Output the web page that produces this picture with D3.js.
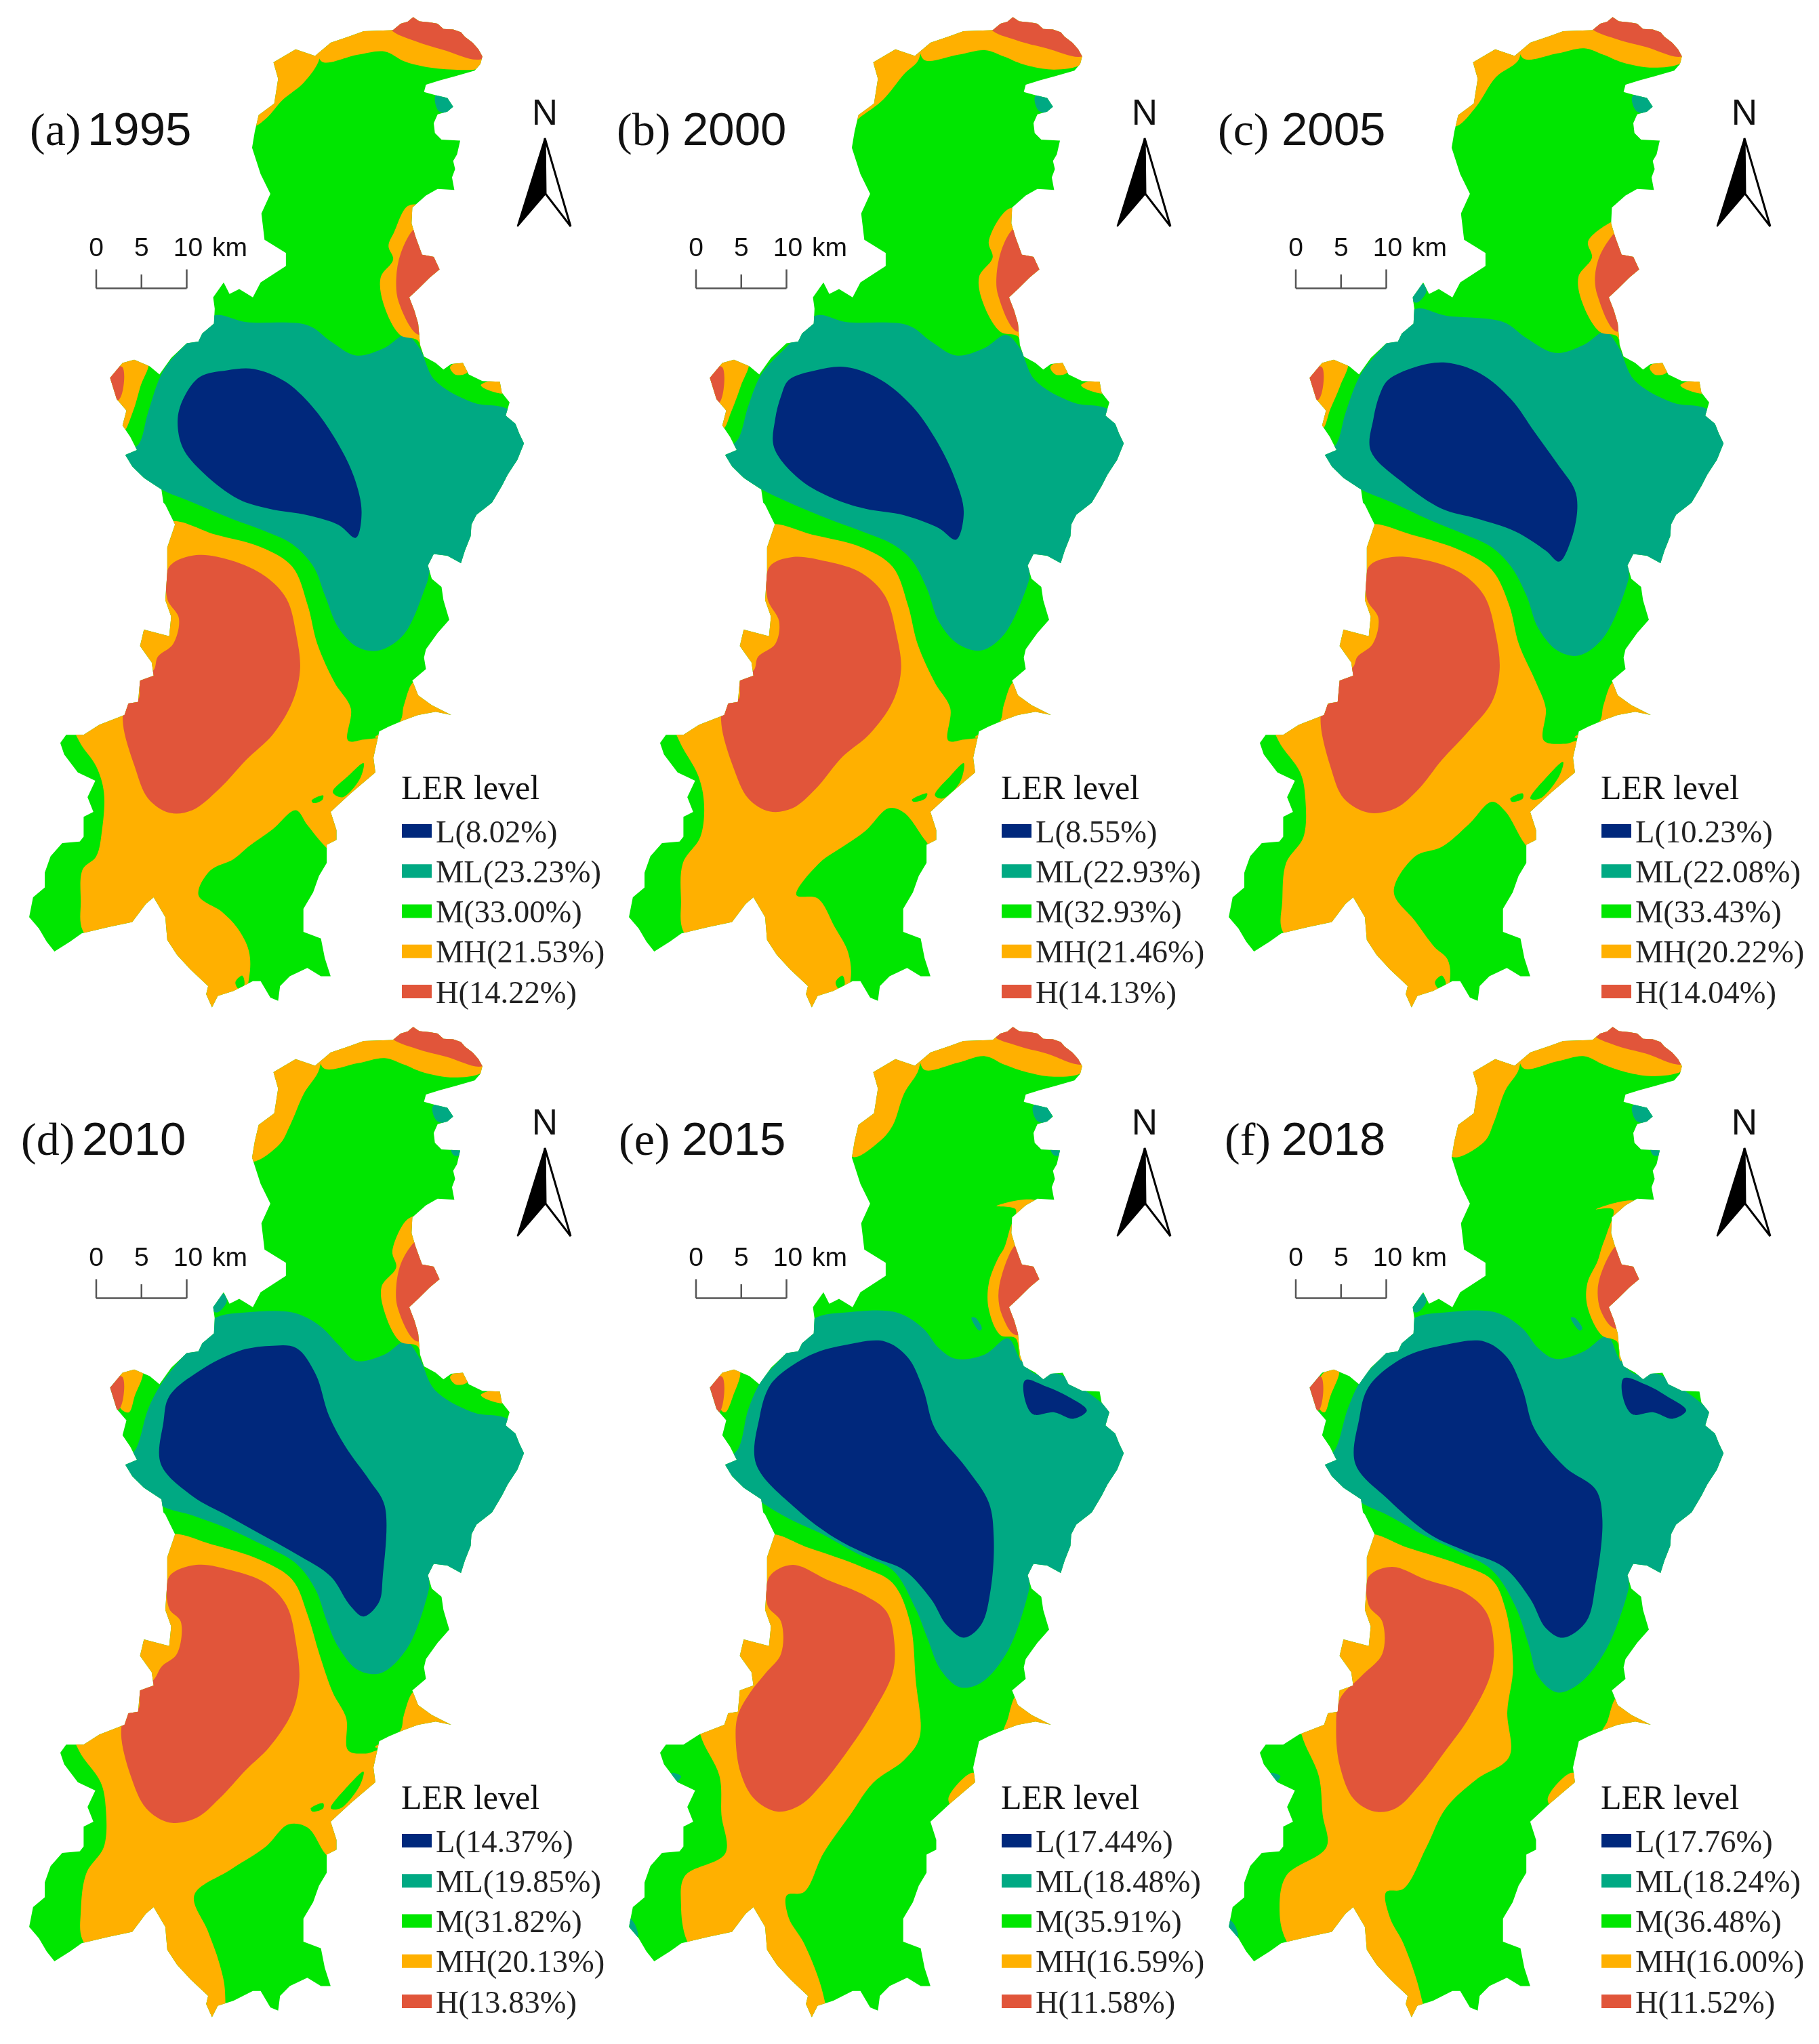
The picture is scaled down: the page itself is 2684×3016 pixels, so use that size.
<!DOCTYPE html>
<html><head><meta charset="utf-8">
<script src="https://cdn.jsdelivr.net/npm/d3@7"></script>
<style>html,body{margin:0;padding:0;background:#fff}svg{display:block;filter:blur(0.7px)}</style>
</head><body><div id="chart"></div>
<script>
// ---------- text and values ----------
const levels = ["L","ML","M","MH","H"];
const levelColors = ["#00287c","#00a983","#00e600","#ffb000","#e1553a"];
const letters = ["(a)","(b)","(c)","(d)","(e)","(f)"];
const years = ["1995","2000","2005","2010","2015","2018"];
const shares1995 = ["8.02","23.23","33.00","21.53","14.22"];
const shares2000 = ["8.55","22.93","32.93","21.46","14.13"];
const shares2005 = ["10.23","22.08","33.43","20.22","14.04"];
const shares2010 = ["14.37","19.85","31.82","20.13","13.83"];
const shares2015 = ["17.44","18.48","35.91","16.59","11.58"];
const shares2018 = ["17.76","18.24","36.48","16.00","11.52"];
const scaleTicks = [0,5,10];

// ---------- basin outline ----------
const outlineNorthEast = [[1010,92],[1030,72],[1048,66],[1062,52],[1078,65],[1105,68],[1125,72],[1140,88],[1165,90],[1185,98],[1195,112],[1215,130],[1230,150],[1240,172],[1235,195],[1220,215],[1170,232],[1130,245],[1095,258],[1090,280],[1120,290],[1150,298],[1165,325],[1150,340],[1125,348],[1115,375],[1118,405],[1135,425],[1183,428],[1175,470],[1165,490],[1170,515],[1162,540],[1168,578],[1125,575],[1095,595],[1060,632],[1058,680],[1068,720],[1085,775],[1115,782],[1130,820],[1105,845],[1075,880],[1052,905],[1065,945],[1075,985],[1080,1050],[1090,1085],[1120,1105],[1140,1125],[1160,1108],[1190,1105],[1205,1140],[1240,1160],[1285,1162],[1290,1195],[1310,1225],[1300,1265],[1325,1290],[1335,1320],[1347,1350],[1330,1400],[1305,1445],[1290,1480],[1265,1530]];
const outlineSouth = [[1258,10],[1225,40],[1212,70],[1210,105],[1195,150],[1185,188],[1150,165],[1115,160],[1100,195],[1110,235],[1135,260],[1140,300],[1155,360],[1125,400],[1095,450],[1090,475],[1095,510],[1060,545],[1075,590],[1110,620],[1160,650],[1120,640],[1075,650],[1040,665],[1000,685],[975,700],[960,780],[965,825],[930,860],[900,890],[850,945],[865,1000],[865,1030],[840,1045],[840,1100],[820,1140],[805,1190],[780,1240],[780,1310],[825,1330],[835,1390],[850,1445],[825,1445],[790,1420],[745,1445],[720,1475],[715,1520],[695,1510],[670,1460],[650,1460],[600,1490],[560,1505],[545,1540],[530,1500],[535,1475],[490,1425],[455,1380],[430,1335],[425,1265],[395,1205],[375,1225],[340,1280],[280,1295],[210,1315],[180,1340],[140,1370],[120,1340],[100,1300],[75,1265],[85,1205],[115,1175],[115,1130],[130,1080],[160,1040],[205,1035],[215,1020],[215,960],[240,945],[225,900],[245,850],[200,825],[165,770],[155,735],[170,710],[215,710],[255,680],[320,650],[330,615],[355,610],[360,545],[395,530],[390,490],[360,440],[370,390],[435,410],[440,350],[425,300],[430,215],[430,140],[450,70],[425,10]];
const outlineNorthWest = [[420,1530],[415,1490],[370,1455],[340,1420],[322,1385],[352,1370],[335,1330],[315,1295],[325,1250],[300,1215],[283,1150],[315,1105],[345,1095],[385,1115],[410,1140],[440,1090],[480,1045],[510,1040],[520,1015],[550,985],[552,940],[548,905],[575,860],[590,895],[615,880],[650,905],[670,860],[735,810],[735,770],[680,730],[672,650],[695,590],[670,530],[648,450],[655,400],[665,350],[705,315],[715,240],[703,190],[760,150],[810,170],[850,130],[900,110],[935,95]];

// ---------- level regions per year, painted in order over the M base ----------
const regions1995 = [
 ["ML",[[555,490],[640,500],[800,505],[860,530],[925,552],[1000,540],[1055,520],[1090,540],[1130,590],[1230,625],[1320,635],[1420,690],[1300,880],[1125,880],[1110,905],[1050,985],[985,1010],[930,1005],[880,975],[845,925],[815,880],[760,845],[690,825],[600,805],[500,780],[420,760],[360,735],[320,705],[360,690],[385,640],[425,575],[490,530]]],
 ["ML",[[1132,148],[1155,146],[1178,162],[1172,175],[1140,172]]],
 ["L",[[520,585],[590,575],[660,573],[740,592],[810,630],[870,680],[920,740],[940,795],[925,835],[880,815],[800,800],[700,790],[620,775],[530,735],[475,695],[462,650],[480,615]]],
 ["MH",[[440,810],[560,830],[680,850],[760,880],[800,940],[825,1000],[870,1060],[912,1100],[905,1150],[950,1148],[1000,1150],[1000,1250],[880,1330],[845,1314],[799,1281],[769,1258],[708,1288],[647,1314],[607,1334],[546,1352],[516,1390],[577,1416],[617,1441],[647,1477],[647,1520],[600,1600],[500,1600],[300,1500],[215,1445],[210,1400],[215,1350],[250,1330],[265,1290],[270,1230],[250,1190],[205,1150],[180,1100],[300,1050],[340,950],[390,850]]],
 ["MH",[[1077,1058],[1050,1095],[1040,1120],[975,1145],[1040,1140],[1200,1110],[1120,1060]]],
 ["MH",[[830,60],[830,92],[790,128],[735,155],[690,185],[660,195],[640,120],[700,60]]],
 ["MH",[[835,95],[930,85],[1000,80],[1050,95],[1100,103],[1180,108],[1250,105],[1280,80],[1100,0],[850,20]]],
 ["MH",[[1060,320],[1025,360],[1010,382],[1022,403],[990,430],[996,470],[1040,520],[1085,528],[1100,545],[1150,500],[1150,350],[1100,320]]],
 ["MH",[[300,550],[385,560],[365,600],[345,640],[320,670],[290,640],[280,590]]],
 ["MH",[[1170,570],[1205,560],[1215,578],[1185,582]]],
 ["MH",[[1250,598],[1305,590],[1310,610],[1270,606]]],
 ["M",[[865,1230],[905,1205],[945,1185],[935,1210],[890,1238]]],
 ["M",[[810,1243],[840,1235],[838,1242],[815,1247]]],
 ["M",[[612,1525],[630,1515],[635,1530],[620,1535]]],
 ["H",[[440,880],[510,862],[600,870],[690,895],[745,930],[770,985],[780,1040],[760,1090],[710,1140],[640,1180],[570,1225],[500,1258],[440,1262],[385,1240],[350,1190],[320,1125],[325,1095],[360,1085],[365,1055],[400,1040],[410,1020],[450,1000],[465,960],[435,930]]],
 ["H",[[1015,45],[1080,64],[1150,77],[1250,92],[1290,70],[1100,0],[1000,10]]],
 ["H",[[1078,355],[1042,393],[1030,433],[1037,470],[1090,520],[1160,480],[1170,390],[1110,350]]],
 ["H",[[280,575],[318,570],[310,620],[280,620]]]
];
const regions2000 = [
 ["ML",[[570,490],[650,500],[810,505],[870,530],[935,552],[1010,540],[1065,520],[1100,540],[1140,590],[1240,625],[1330,635],[1430,690],[1310,880],[1130,880],[1125,900],[1060,985],[1000,1010],[940,1000],[890,965],[860,915],[820,870],[770,845],[690,825],[600,805],[500,780],[430,760],[370,735],[335,705],[370,680],[395,630],[430,580],[500,535]]],
 ["ML",[[1140,150],[1165,144],[1190,160],[1180,175],[1150,172]]],
 ["L",[[500,590],[570,575],[650,570],[740,590],[820,630],[880,680],[930,740],[955,795],[935,838],[890,820],[800,800],[700,790],[620,775],[530,745],[462,695],[465,650],[480,615]]],
 ["MH",[[450,815],[560,830],[690,850],[770,880],[810,940],[835,1000],[880,1060],[920,1100],[915,1150],[960,1148],[1010,1150],[1010,1250],[890,1330],[855,1305],[800,1262],[760,1255],[700,1290],[640,1315],[580,1340],[520,1390],[575,1395],[620,1440],[655,1480],[660,1525],[610,1600],[500,1600],[300,1500],[225,1445],[220,1400],[225,1340],[270,1300],[280,1250],[265,1205],[215,1150],[190,1100],[310,1050],[350,950],[400,850]]],
 ["MH",[[1086,1058],[1059,1095],[1049,1120],[984,1145],[1049,1140],[1209,1110],[1129,1060]]],
 ["MH",[[838,60],[838,92],[800,115],[745,155],[690,180],[665,190],[650,120],[710,60]]],
 ["MH",[[850,92],[940,85],[1010,78],[1060,88],[1110,100],[1190,108],[1262,100],[1290,80],[1110,0],[860,20]]],
 ["MH",[[1070,325],[1020,375],[1030,400],[995,430],[1005,470],[1050,515],[1095,522],[1110,545],[1160,500],[1160,350],[1110,325]]],
 ["MH",[[310,550],[395,560],[375,600],[350,640],[330,665],[300,640],[290,590]]],
 ["MH",[[1180,570],[1215,560],[1225,578],[1195,582]]],
 ["MH",[[1260,598],[1315,590],[1320,610],[1280,606]]],
 ["M",[[880,1235],[920,1205],[955,1185],[945,1215],[900,1240]]],
 ["M",[[820,1242],[860,1232],[855,1240],[825,1245]]],
 ["M",[[622,1525],[640,1515],[645,1530],[630,1535]]],
 ["H",[[450,880],[510,865],[600,872],[690,890],[750,925],[780,985],[792,1040],[770,1090],[710,1140],[640,1175],[570,1225],[510,1255],[450,1260],[395,1240],[355,1190],[325,1125],[330,1095],[370,1085],[375,1055],[410,1040],[420,1020],[465,1000],[475,965],[445,930]]],
 ["H",[[1025,45],[1090,62],[1170,75],[1262,88],[1300,70],[1110,0],[1010,10]]],
 ["H",[[1085,355],[1055,385],[1040,430],[1045,460],[1095,515],[1170,480],[1180,390],[1120,350]]],
 ["H",[[290,575],[327,570],[320,625],[290,625]]]
];
const regions2005 = [
 ["ML",[[560,480],[640,490],[790,500],[850,525],[925,548],[1000,535],[1055,515],[1090,540],[1130,590],[1230,625],[1320,635],[1420,690],[1300,880],[1120,880],[1115,900],[1050,990],[985,1018],[930,1010],[880,975],[850,925],[810,880],[760,850],[690,830],[600,808],[500,780],[420,760],[360,735],[325,705],[355,690],[380,640],[420,580],[490,530]]],
 ["ML",[[1125,150],[1155,145],[1178,162],[1170,175],[1135,172]]],
 ["ML",[[550,465],[578,440],[590,452],[565,470]]],
 ["L",[[490,590],[560,570],[640,563],[730,580],[810,620],[870,670],[930,720],[975,760],[982,790],[965,840],[935,872],[900,855],[820,825],[720,805],[630,790],[530,750],[445,700],[452,650],[470,610]]],
 ["MH",[[440,815],[550,830],[680,855],[760,885],[805,940],[830,1000],[875,1060],[900,1100],[895,1150],[950,1155],[1000,1150],[1000,1250],[880,1330],[845,1310],[795,1260],[760,1245],[700,1280],[630,1315],[560,1330],[505,1385],[560,1430],[610,1470],[645,1490],[650,1525],[600,1600],[500,1600],[300,1500],[215,1445],[215,1400],[225,1340],[270,1300],[275,1240],[262,1200],[205,1150],[180,1100],[300,1050],[340,950],[390,850]]],
 ["MH",[[1077,1058],[1050,1095],[1040,1120],[975,1145],[1040,1140],[1200,1110],[1120,1060]]],
 ["MH",[[830,60],[830,92],[770,120],[720,165],[672,195],[655,195],[640,120],[700,60]]],
 ["MH",[[840,90],[930,83],[1000,75],[1050,85],[1100,97],[1180,105],[1252,98],[1280,80],[1100,0],[850,20]]],
 ["MH",[[1070,345],[1010,375],[1020,400],[985,430],[995,470],[1040,515],[1085,522],[1100,545],[1150,500],[1150,350],[1100,340]]],
 ["MH",[[300,550],[385,560],[365,600],[340,635],[320,665],[290,640],[280,590]]],
 ["MH",[[1170,570],[1205,560],[1215,578],[1185,582]]],
 ["MH",[[1250,598],[1305,590],[1310,610],[1270,606]]],
 ["M",[[860,1240],[905,1205],[945,1183],[935,1205],[885,1240]]],
 ["M",[[808,1240],[840,1232],[840,1240],[812,1245]]],
 ["M",[[612,1525],[630,1515],[640,1528],[622,1535]]],
 ["H",[[440,880],[500,865],[590,870],[680,890],[740,925],[770,985],[780,1040],[760,1090],[700,1135],[630,1180],[570,1225],[510,1255],[440,1262],[375,1240],[340,1190],[315,1125],[320,1100],[355,1085],[365,1050],[400,1035],[410,1020],[450,1000],[465,960],[435,930]]],
 ["H",[[1015,42],[1080,60],[1160,73],[1252,88],[1290,70],[1100,0],[1000,10]]],
 ["H",[[1085,358],[1042,395],[1028,430],[1035,460],[1085,515],[1160,480],[1170,390],[1110,350]]],
 ["H",[[280,575],[318,570],[310,620],[280,620]]]
];
const regions2010 = [
 ["ML",[[555,480],[640,470],[760,470],[830,490],[880,520],[925,545],[1000,535],[1055,515],[1090,540],[1130,590],[1230,625],[1320,635],[1420,690],[1300,880],[1120,880],[1115,900],[1060,990],[990,1030],[930,1025],[880,990],[850,950],[820,900],[770,860],[680,830],[590,805],[500,785],[420,770],[360,735],[325,705],[355,680],[385,620],[420,580],[480,535]]],
 ["ML",[[1125,150],[1155,145],[1178,162],[1170,175],[1135,172]]],
 ["ML",[[1172,215],[1195,212],[1195,226],[1180,226]]],
 ["ML",[[550,465],[578,440],[590,452],[565,470]]],
 ["L",[[440,600],[520,560],[620,530],[700,522],[770,525],[820,565],[855,630],[900,680],[960,730],[1000,770],[995,880],[985,920],[945,942],[910,925],[860,880],[770,845],[680,815],[590,785],[500,755],[418,705],[425,640]]],
 ["MH",[[440,815],[550,830],[680,855],[760,885],[800,940],[830,1000],[865,1060],[900,1100],[905,1150],[950,1155],[1000,1150],[1000,1250],[880,1330],[845,1310],[800,1270],[750,1265],[690,1300],[600,1335],[505,1375],[540,1430],[570,1480],[585,1525],[570,1600],[500,1600],[300,1500],[215,1445],[210,1400],[225,1340],[270,1300],[275,1240],[262,1200],[205,1150],[180,1100],[300,1050],[340,950],[390,850]]],
 ["MH",[[1077,1058],[1050,1095],[1040,1120],[975,1145],[1040,1140],[1200,1110],[1120,1060]]],
 ["MH",[[830,60],[830,92],[790,130],[755,178],[725,210],[650,235],[630,120],[700,60]]],
 ["MH",[[840,90],[930,83],[1000,75],[1050,85],[1100,97],[1180,105],[1252,98],[1280,80],[1100,0],[850,20]]],
 ["MH",[[1060,325],[1020,375],[1030,400],[992,430],[1000,470],[1040,515],[1085,522],[1100,545],[1150,500],[1150,350],[1100,320]]],
 ["MH",[[310,550],[370,560],[350,600],[335,625],[315,620],[300,590]]],
 ["MH",[[1170,570],[1205,560],[1215,578],[1185,582]]],
 ["MH",[[1250,598],[1305,590],[1310,610],[1270,606]]],
 ["M",[[860,1240],[905,1205],[945,1183],[935,1205],[885,1240]]],
 ["M",[[808,1240],[840,1232],[840,1240],[812,1245]]],
 ["H",[[440,880],[510,862],[600,870],[690,890],[745,925],[770,985],[778,1040],[760,1090],[700,1145],[640,1180],[570,1225],[510,1255],[440,1262],[380,1240],[340,1190],[315,1125],[325,1095],[360,1085],[365,1055],[400,1040],[420,1020],[460,1000],[470,950],[440,930]]],
 ["H",[[1015,42],[1080,60],[1160,73],[1252,88],[1290,70],[1100,0],[1000,10]]],
 ["H",[[1082,358],[1045,390],[1030,430],[1035,465],[1085,515],[1160,480],[1170,390],[1110,350]]],
 ["H",[[280,575],[318,570],[310,620],[280,620]]]
];
const regions2015 = [
 ["ML",[[565,480],[650,470],[780,470],[850,495],[890,525],[935,542],[1010,535],[1070,510],[1100,540],[1140,565],[1200,565],[1280,595],[1340,625],[1430,690],[1310,880],[1130,880],[1125,900],[1070,995],[1000,1045],[945,1052],[895,1025],[860,975],[830,930],[770,870],[680,845],[590,815],[500,790],[430,765],[370,735],[335,705],[370,680],[395,620],[430,575],[490,535]]],
 ["ML",[[1135,150],[1160,145],[1185,160],[1175,175],[1145,172]]],
 ["ML",[[1180,215],[1205,212],[1205,226],[1190,226]]],
 ["ML",[[975,478],[985,478],[1002,495],[995,498]]],
 ["ML",[[85,1410],[100,1420],[108,1440],[95,1440]]],
 ["ML",[[195,1185],[220,1190],[210,1198]]],
 ["L",[[470,570],[560,535],[650,520],[750,515],[810,540],[850,590],[880,650],[960,710],[1020,765],[1033,820],[1025,900],[1000,955],[955,975],[910,955],[870,915],[800,870],[720,850],[620,820],[520,775],[415,705],[425,630],[445,590]]],
 ["L",[[1115,575],[1170,585],[1225,600],[1275,622],[1240,635],[1190,625],[1135,628],[1112,600]]],
 ["MH",[[450,815],[550,835],[690,865],[770,890],[815,950],[830,1040],[840,1130],[800,1165],[720,1200],[660,1250],[590,1310],[540,1370],[495,1375],[500,1410],[540,1450],[590,1530],[600,1600],[500,1600],[300,1500],[235,1445],[220,1390],[230,1345],[335,1310],[325,1250],[320,1190],[270,1125],[260,1050],[340,1000],[390,850]]],
 ["MH",[[1090,1065],[1070,1100],[1060,1125],[1200,1115],[1110,1060]]],
 ["MH",[[975,1185],[1000,1190],[930,1240],[915,1225]]],
 ["MH",[[838,60],[838,92],[800,130],[770,180],[735,205],[665,228],[640,120],[710,60]]],
 ["MH",[[850,92],[940,82],[1010,72],[1060,85],[1120,97],[1190,104],[1262,98],[1290,80],[1110,0],[860,20]]],
 ["MH",[[1040,305],[1090,310],[1075,340],[1060,370],[1045,385],[1020,425],[1020,465],[1050,505],[1090,510],[1105,545],[1160,500],[1160,300]]],
 ["MH",[[310,560],[372,560],[355,600],[335,625],[322,620],[305,590]]],
 ["H",[[450,880],[510,862],[600,885],[700,910],[755,935],[775,985],[770,1030],[720,1090],[660,1145],[590,1200],[530,1235],[470,1245],[410,1225],[375,1185],[362,1130],[368,1095],[400,1060],[440,1030],[480,1000],[480,950],[445,925]]],
 ["H",[[1032,40],[1090,55],[1170,68],[1262,85],[1300,70],[1110,0],[1020,10]]],
 ["H",[[1090,365],[1055,410],[1045,445],[1055,475],[1090,505],[1170,480],[1170,390],[1120,360]]],
 ["H",[[290,575],[327,570],[320,625],[290,625]]]
];
const regions2018 = [
 ["ML",[[555,480],[640,470],[770,470],[840,495],[880,525],[925,542],[1000,530],[1060,507],[1090,540],[1130,565],[1190,565],[1270,595],[1330,625],[1420,690],[1300,880],[1120,880],[1115,900],[1060,990],[990,1045],[930,1060],[880,1035],[855,985],[820,925],[760,870],[670,840],[580,815],[490,785],[420,765],[360,735],[325,705],[355,680],[385,620],[420,575],[480,535]]],
 ["ML",[[1125,150],[1150,145],[1178,162],[1170,175],[1135,172]]],
 ["ML",[[1172,215],[1195,212],[1195,226],[1180,226]]],
 ["ML",[[965,478],[975,478],[995,495],[988,498]]],
 ["ML",[[72,1410],[90,1420],[100,1440],[85,1440]]],
 ["ML",[[185,1185],[210,1190],[200,1198]]],
 ["ML",[[550,465],[578,440],[590,452],[565,470]]],
 ["L",[[440,585],[530,540],[640,520],[740,515],[800,540],[840,590],[870,650],[950,710],[1030,745],[1047,790],[1030,890],[1005,950],[945,975],[900,960],[860,915],[790,865],[690,840],[600,815],[490,760],[405,705],[415,635]]],
 ["L",[[1103,572],[1160,582],[1215,600],[1265,622],[1230,635],[1180,625],[1125,628],[1100,600]]],
 ["MH",[[440,815],[540,835],[670,860],[760,885],[795,930],[815,1020],[800,1090],[805,1160],[720,1195],[640,1240],[590,1300],[530,1365],[485,1370],[495,1410],[530,1450],[575,1530],[590,1600],[500,1600],[300,1500],[225,1445],[208,1400],[225,1345],[330,1300],[320,1250],[310,1190],[265,1125],[250,1050],[340,1000],[390,850]]],
 ["MH",[[1080,1070],[1060,1105],[1045,1125],[1190,1115],[1100,1060]]],
 ["MH",[[965,1185],[990,1190],[920,1240],[905,1225]]],
 ["MH",[[830,60],[830,92],[795,125],[765,175],[740,205],[655,228],[630,120],[700,60]]],
 ["MH",[[840,90],[930,80],[1000,72],[1050,85],[1110,97],[1180,103],[1252,96],[1280,80],[1100,0],[850,20]]],
 ["MH",[[1030,310],[1075,310],[1060,345],[1045,370],[1035,390],[1008,425],[1008,460],[1045,505],[1085,515],[1095,545],[1150,500],[1150,300]]],
 ["MH",[[320,565],[362,560],[340,600],[325,625],[312,620],[310,590]]],
 ["H",[[440,880],[500,865],[590,885],[690,905],[745,935],[765,985],[755,1035],[700,1100],[640,1150],[570,1205],[510,1240],[455,1245],[400,1225],[365,1175],[355,1120],[365,1070],[420,1035],[475,1000],[475,950],[440,925]]],
 ["H",[[1022,38],[1080,55],[1160,68],[1252,85],[1290,70],[1100,0],[1010,10]]],
 ["H",[[1085,365],[1050,400],[1035,435],[1045,470],[1080,495],[1160,480],[1160,390],[1110,360]]],
 ["H",[[280,575],[316,570],[310,622],[280,622]]]
];
const sharesByPanel = [shares1995,shares2000,shares2005,shares2010,shares2015,shares2018];
const regionsByPanel = [regions1995,regions2000,regions2005,regions2010,regions2015,regions2018];

// ---------- layout ----------
const W = 2684, H = 3016;
const columnX = [0,885,1770], rowY = [0,1490];
const regionShift = [0,-5,0];
const letterX = [44,25,27,31,28,37], yearX = [129,122,121,121,121,121];
const serif = "'Liberation Serif','Times New Roman',serif", sans = "'Liberation Sans',Arial,sans-serif";
const color = d3.scaleOrdinal(levels, levelColors);

const regionX = d3.scaleLinear([0,1568],[0,890]);
const regionY = d3.scaleLinear([0,1568],[0,1490]);
const northX = d3.scaleLinear([0,1568],[0,900]);
const northY = d3.scaleLinear([0,1568],[0,760]);
const southY = d3.scaleLinear([0,1568],[740,1500]);
const kmX = d3.scaleLinear([0,10],[142,275.5]);

const outlinePixels = [
  ...outlineNorthEast.map(p=>[northX(p[0]),northY(p[1])]),
  ...outlineSouth.map(p=>[northX(p[0]),southY(p[1])]),
  ...outlineNorthWest.map(p=>[northX(p[0]),northY(p[1])])
];
const outlinePath = d3.line().curve(d3.curveLinearClosed);
const regionPath = d3.line().x(p=>regionX(p[0])).y(p=>regionY(p[1])).curve(d3.curveCatmullRomClosed.alpha(0.5));

const svg = d3.select("#chart").append("svg").attr("width",W).attr("height",H).attr("viewBox",[0,0,W,H]);
svg.append("rect").attr("width",W).attr("height",H).attr("fill","#fff");
svg.append("defs").append("clipPath").attr("id","basin").append("path").attr("d",outlinePath(outlinePixels));

years.forEach((year,i)=>{
  const col = i%3, row = Math.floor(i/3);
  const g = svg.append("g").attr("transform",`translate(${columnX[col]},${rowY[row]})`);

  // map
  g.append("path").attr("d",outlinePath(outlinePixels)).attr("fill",color("M"));
  const clipped = g.append("g").attr("clip-path","url(#basin)").append("g").attr("transform",`translate(${regionShift[col]},0)`);
  clipped.selectAll("path").data(regionsByPanel[i]).join("path")
    .attr("d",d=>regionPath(d[1])).attr("fill",d=>color(d[0]));

  // title
  g.append("text").attr("x",letterX[i]).attr("y",214).attr("font-family",serif).attr("font-size",68).attr("fill","#111").text(letters[i]);
  g.append("text").attr("x",yearX[i]).attr("y",214).attr("font-family",sans).attr("font-size",69).attr("fill","#111").text(year);

  // north arrow
  g.append("text").attr("x",804).attr("y",184).attr("text-anchor","middle").attr("font-family",sans).attr("font-size",53).attr("fill","#111").text("N");
  g.append("path").attr("d","M804,204L842,334L805,286Z").attr("fill","#fff").attr("stroke","#000").attr("stroke-width",3).attr("stroke-linejoin","miter");
  g.append("path").attr("d","M804,204L763.5,334L805,286Z").attr("fill","#000").attr("stroke","#000").attr("stroke-width",2);

  // scale bar
  const bar = g.append("g").attr("stroke","#555").attr("stroke-width",2.5).attr("fill","none");
  bar.append("line").attr("x1",kmX(0)).attr("x2",kmX(10)).attr("y1",425.5).attr("y2",425.5);
  bar.selectAll("line.t").data(scaleTicks).join("line").attr("class","t")
    .attr("x1",d=>kmX(d)).attr("x2",d=>kmX(d)).attr("y1",d=>d===5?405:397.5).attr("y2",425.5);
  g.selectAll("text.km").data(scaleTicks).join("text").attr("class","km")
    .attr("x",d=>kmX(d)+(d===10?2:0)).attr("y",378).attr("text-anchor","middle")
    .attr("font-family",sans).attr("font-size",39).attr("fill","#111").text(d=>d);
  g.append("text").attr("x",313).attr("y",378).attr("font-family",sans).attr("font-size",39).attr("fill","#111").text("km");

  // legend
  g.append("text").attr("x",592).attr("y",1179).attr("font-family",serif).attr("font-size",50).attr("fill","#111").text("LER level");
  const rowCenter = d3.scalePoint(levels,[1226,1463]);
  const rows = g.selectAll("g.lg").data(levels).join("g").attr("class","lg")
    .attr("transform",d=>`translate(593,${rowCenter(d)})`);
  rows.append("rect").attr("x",0).attr("y",-10).attr("width",44).attr("height",20).attr("fill",d=>color(d));
  rows.append("text").attr("x",50).attr("y",16.5).attr("font-family",serif).attr("font-size",46.5).attr("fill","#222")
    .text((d,j)=>`${d}(${sharesByPanel[i][j]}%)`);
});
</script></body></html>
